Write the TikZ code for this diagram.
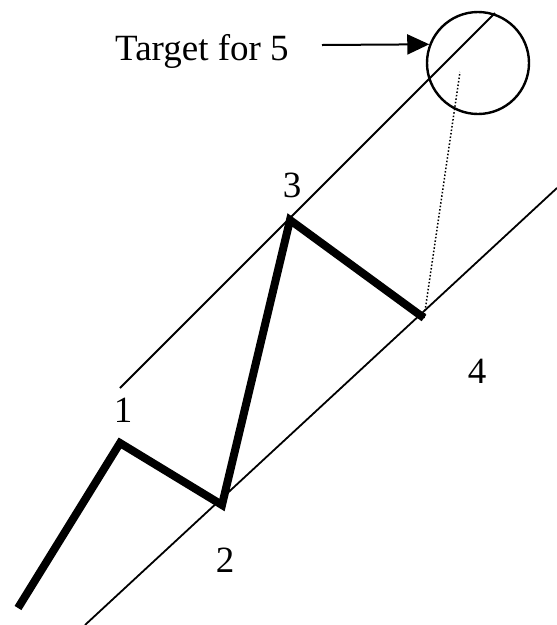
\documentclass[tikz,border=0pt]{standalone}
\usepackage{fontspec}
\setmainfont{Liberation Serif}
\usetikzlibrary{arrows.meta}
\begin{document}
\begin{tikzpicture}[x=1pt,y=-1pt,
  wave/.style={line width=8pt,line join=miter},
  chan/.style={line width=1.8pt},
  lbl/.style={inner sep=0pt,anchor=base,font=\fontsize{37}{44}\selectfont},
  tgt/.style={draw,circle,line width=2.4pt,inner sep=0pt,minimum size=102pt}]
\useasboundingbox (0,0) rectangle (557,625);
\coordinate (p0) at (18,608);
\coordinate (p1) at (120,443);
\coordinate (p2) at (222,505);
\coordinate (p3) at (290,220);
\coordinate (p4) at (424,318);
\coordinate (u0) at (120,388);
\coordinate (u1) at (495,13);
\coordinate (l0) at (85,625);
\coordinate (l1) at (557,188);
\coordinate (d1) at (460,72);
\coordinate (a0) at (322,45);
\node[tgt] (c) at (478,63) {};
\draw[chan] (u0) -- (u1);
\draw[chan] (l0) -- (l1);
\draw[wave] (p0) -- (p1) -- (p2) -- (p3) -- (p4);
\draw[line width=1.5pt,dash pattern=on 1.5pt off 2pt] (p4) -- (d1);
\draw[line width=2pt,-{Triangle[length=22pt,width=20pt]}] (a0) -- (c.159);
\node[lbl,anchor=base west] (t) at (115,60) {Target for 5};
\node[lbl] (n1) at (123,422) {1};
\node[lbl] (n2) at (225,572) {2};
\node[lbl] (n3) at (292,197) {3};
\node[lbl] (n4) at (477,383) {4};
\end{tikzpicture}
\end{document}
